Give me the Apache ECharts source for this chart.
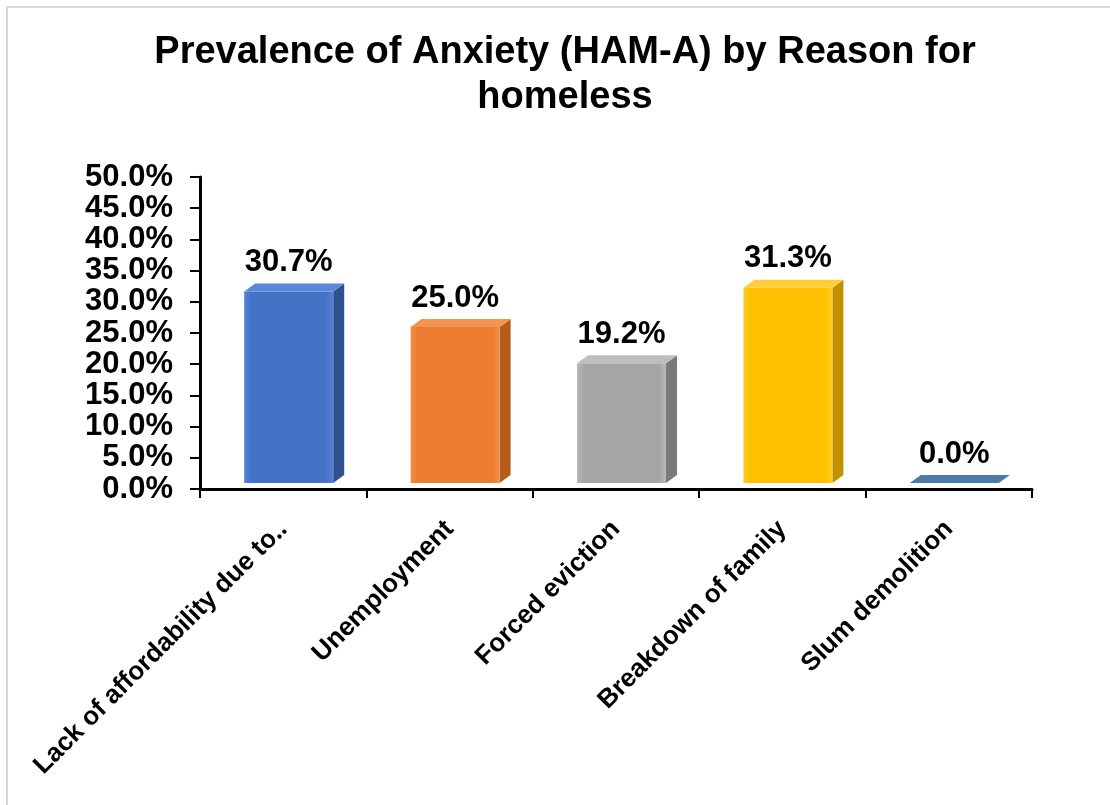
<!DOCTYPE html>
<html>
<head>
<meta charset="utf-8">
<script src="https://cdn.jsdelivr.net/npm/echarts@6/dist/echarts.min.js"></script>
<style>
  html, body { margin: 0; padding: 0; background: #fff; }
  #chart { width: 1110px; height: 805px; }
</style>
</head>
<body>
<div id="chart"></div>
<script>
// Reasons for homelessness and share of respondents with anxiety (HAM-A)
const categories = [
  'Lack of affordability due to‥',
  'Unemployment',
  'Forced eviction',
  'Breakdown of family',
  'Slum demolition'
];
const anxietyShare = [0.307, 0.250, 0.192, 0.313, 0.000];
const yTicks = { min: 0, max: 0.5, step: 0.05 };

// front / side / top shades for each column
const palette = [
  { front: '#4472C4', light: '#5483D6', side: '#2F528F', top: '#5C88D8' },
  { front: '#ED7D31', light: '#F38E48', side: '#B35D1F', top: '#F39450' },
  { front: '#A5A5A5', light: '#B8B8B8', side: '#7A7A7A', top: '#BEBEBE' },
  { front: '#FFC000', light: '#FFCB2E', side: '#C29100', top: '#FFCF3A' },
  { front: '#4A7AA8', light: '#5587B5', side: '#3A6690', top: '#4A7AA8' }
];

const FONT = 'Liberation Sans, Arial, sans-serif';
const chart = echarts.init(document.getElementById('chart'), null, { renderer: 'canvas' });

function renderColumn(params, api) {
  const idx = api.value(0);
  const val = api.value(1);
  const base = api.coord([idx, 0]);
  const top = api.coord([idx, val]);
  const band = api.size([1, 0])[0];
  const w = band * 0.535;
  const dx = 11, dy = 8, lift = 6, shift = 5.5;
  const xl = base[0] - w / 2 + shift;
  const xr = xl + w;
  const yb = base[1] - lift;
  const yt = top[1] - lift;
  const c = palette[idx];
  const children = [];
  if (yb - yt > 0.5) {
    children.push({
      type: 'polygon',
      shape: { points: [[xr, yt], [xr + dx, yt - dy], [xr + dx, yb - dy], [xr, yb]] },
      style: { fill: c.side }
    });
    children.push({
      type: 'rect',
      shape: { x: xl, y: yt, width: w, height: yb - yt },
      style: {
        fill: new echarts.graphic.LinearGradient(0, 0, 1, 0, [
          { offset: 0, color: c.light },
          { offset: 0.08, color: c.front },
          { offset: 0.92, color: c.front },
          { offset: 1, color: c.light }
        ])
      }
    });
  }
  children.push({
    type: 'polygon',
    shape: { points: [[xl, yt], [xl + dx, yt - dy], [xr + dx, yt - dy], [xr, yt]] },
    style: { fill: c.top }
  });
  children.push({
    type: 'text',
    style: {
      x: xl + w / 2,
      y: yt - 29,
      text: (val * 100).toFixed(1) + '%',
      fill: '#000',
      font: 'bold 31px ' + FONT,
      align: 'center',
      verticalAlign: 'middle'
    }
  });
  return { type: 'group', children: children };
}

chart.setOption({
  animation: false,
  backgroundColor: '#fff',
  graphic: [{
    type: 'rect',
    shape: { x: 7, y: 7, width: 1120, height: 820 },
    style: { fill: 'none', stroke: '#d9d9d9', lineWidth: 2 },
    silent: true
  }],
  title: {
    text: 'Prevalence of Anxiety (HAM-A) by Reason for\nhomeless',
    left: 560,
    top: 25,
    textAlign: 'center',
    textStyle: {
      fontFamily: FONT,
      fontWeight: 'bold',
      fontSize: 38,
      lineHeight: 45,
      color: '#000'
    }
  },
  grid: { left: 200, right: 78, top: 177, bottom: 316, containLabel: false },
  xAxis: {
    type: 'category',
    data: categories,
    boundaryGap: true,
    axisLine: { lineStyle: { color: '#000', width: 3 } },
    axisTick: { show: true, length: 9, lineStyle: { color: '#000', width: 2 } },
    axisLabel: {
      rotate: 45,
      interval: 0,
      margin: 36,
      color: '#000',
      fontFamily: FONT,
      fontWeight: 'bold',
      fontSize: 26
    },
    splitLine: { show: false }
  },
  yAxis: {
    type: 'value',
    min: yTicks.min,
    max: yTicks.max,
    interval: yTicks.step,
    axisLine: { show: true, lineStyle: { color: '#000', width: 3 } },
    axisTick: { show: true, length: 10, lineStyle: { color: '#000', width: 2 } },
    axisLabel: {
      margin: 27,
      showMinLabel: true,
      showMaxLabel: true,
      hideOverlap: false,
      color: '#000',
      fontFamily: FONT,
      fontWeight: 'bold',
      fontSize: 31,
      formatter: v => (v * 100).toFixed(1) + '%'
    },
    splitLine: { show: false }
  },
  series: [{
    type: 'custom',
    renderItem: renderColumn,
    encode: { x: 0, y: 1 },
    data: anxietyShare.map((v, i) => [i, v]),
    clip: false,
    z: 3
  }]
});
</script>
</body>
</html>
